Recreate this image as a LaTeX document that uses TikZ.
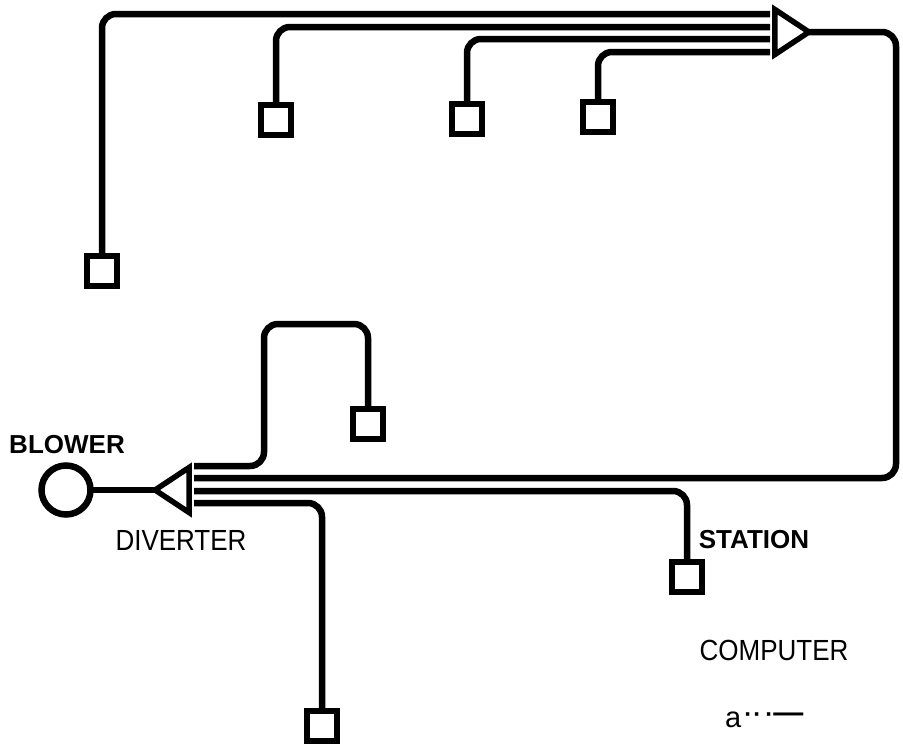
\documentclass[tikz,border=0pt]{standalone}
\usepackage{fontspec}
\setmainfont{Liberation Sans}
\usepackage{tikz}
\usetikzlibrary{
  calc,
  shapes.geometric
}
\definecolor{TubeBlack}{HTML}{000000}
\tikzset{
  every picture/.style = {line cap=round},
  every node/.style = {text=TubeBlack},
  station/.style = {
    draw=TubeBlack,
    fill=white,
    line width=6.5pt,
    minimum size=30pt,
    inner sep=0pt,
    outer sep=0pt
  },
  diverter/.style = {
    draw=TubeBlack,
    line width=5.5pt,
    shape=isosceles triangle,
    isosceles triangle stretches,
    minimum width=45pt,
    minimum height=34pt,
    inner sep=0pt,
    outer sep=0pt
  },
  blower/.style = {
    draw=TubeBlack,
    line width=6.5pt,
    circle,
    minimum size=49pt,
    inner sep=0pt,
    outer sep=0pt
  },
  tube/.style = {draw=TubeBlack, line width=6.5pt, rounded corners=14pt, line cap=butt},
  bold label/.style = {font=\fontsize{26}{28}\selectfont\bfseries, inner sep=0pt},
  plain label/.style = {font=\fontsize{26}{28}\selectfont, inner sep=0pt, yscale=1.12, transform shape},
}
\begin{document}
\begin{tikzpicture}[x=1pt,y=-1pt]
  \useasboundingbox (0,0) rectangle (903,755);

  % return diverter, top right
  \node[diverter, shape border rotate=0] (divtop) at (787,32) {};
  \foreach \name/\y in {toptwo/14,topthree/27,topfour/39,topfive/52} {
    \coordinate (\name) at (770,\y);
  }
  % stations feeding it
  \node[station] (stone) at (102,271) {};
  \node[station] (sttwo) at (276,120) {};
  \node[station] (stthree) at (467,119) {};
  \node[station] (stfour) at (598,117) {};
  \draw[tube] (stone.north) |- (toptwo);
  \draw[tube] (sttwo.north) |- (topthree);
  \draw[tube] (stthree.north) |- (topfour);
  \draw[tube] (stfour.north) |- (topfive);

  % blower and lower diverter
  \node[blower] (fan) at (66,490) {};
  \node[diverter, shape border rotate=180] (divlow) at (177,490) {};
  \draw[line width=5.5pt, draw=TubeBlack] (fan) -- (divlow.apex);
  \foreach \name/\y in {lowone/466,lowtwo/478,lowthree/491,lowfour/503} {
    \coordinate (\name) at (194,\y);
  }

  \node[station] (stfive) at (368,424) {};
  \node[station] (stsix) at (687,577) {};
  \node[station] (stseven) at (322,726) {};
  \coordinate (bendlow) at (264,324);
  \coordinate (bendright) at (896,300);
  \draw[tube] (lowone) -| (bendlow) -| (stfive.north);
  \draw[tube] (divtop.apex) -| (bendright) |- (lowtwo);
  \draw[tube] (lowthree) -| (stsix.north);
  \draw[tube] (lowfour) -| (stseven.north);

  \node[bold label] (lblower) at (67,445) {BLOWER};
  \node[plain label] (ldiverter) at (181,540) {DIVERTER};
  \node[bold label] (lstation) at (754,540) {STATION};
  \node[plain label] (lcomputer) at (774,650) {COMPUTER};
  \node[font=\fontsize{29}{30}\selectfont, inner sep=0pt, anchor=base west] (lcode) at (725,727)
    {a\raisebox{5pt}{\fontsize{24}{24}\selectfont\bfseries\kern3pt·\kern1pt·\kern4pt·\kern0pt\fontsize{30}{30}\selectfont—}};
\end{tikzpicture}
\end{document}
